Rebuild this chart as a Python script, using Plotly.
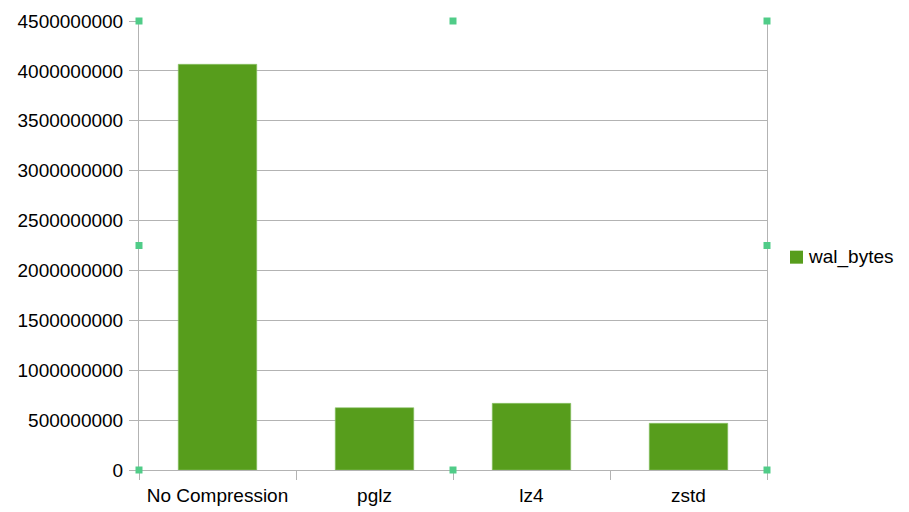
import plotly.graph_objects as go

categories = ["No Compression", "pglz", "lz4", "zstd"]
wal_bytes = [4066000000, 624000000, 668000000, 468000000]
y_ticks = [0, 500000000, 1000000000, 1500000000, 2000000000, 2500000000,
           3000000000, 3500000000, 4000000000, 4500000000]
series_name = "wal_bytes"
bar_color = "#579D1C"

fig = go.Figure()
fig.add_trace(go.Bar(
    x=categories, y=wal_bytes, name=series_name, showlegend=False,
    marker=dict(color=bar_color, line=dict(color="#8cc46a", width=0.6)),
))

grid = "#b3b3b3"
font = dict(family="Liberation Sans, Arial, sans-serif", size=19, color="#000000")

fig.update_layout(
    width=909, height=512,
    margin=dict(l=139, r=142, t=21, b=42, autoexpand=False),
    paper_bgcolor="white", plot_bgcolor="white",
    font=font,
    bargap=0.5,
    xaxis=dict(
        showline=True, linecolor=grid, linewidth=1, mirror=False,
        ticks="outside", tickson="boundaries", ticklen=9, tickcolor=grid,
        showgrid=False, tickfont=font, ticklabelstandoff=8,
    ),
    yaxis=dict(
        range=[0, 4500000000], tickvals=y_ticks,
        ticktext=[str(v) for v in y_ticks],
        showline=True, linecolor=grid, linewidth=1, mirror=True,
        ticks="outside", ticklen=9, tickcolor=grid,
        showgrid=True, gridcolor=grid, gridwidth=1,
        zeroline=False, tickfont=font, ticklabelstandoff=2,
    ),
)

# manual legend (swatch + label)
fig.add_shape(type="rect", xref="paper", yref="paper",
              xsizemode="pixel", ysizemode="pixel",
              xanchor=1, yanchor=0.474, x0=23, x1=36, y0=-6.5, y1=6.5,
              fillcolor=bar_color, line=dict(width=0))
fig.add_annotation(text=series_name, xref="paper", yref="paper",
                   x=1, y=0.474, xshift=39, xanchor="left", yanchor="middle",
                   showarrow=False, font=font)

# selection handles
handles = [(0, 1), (0.5, 1), (1, 1), (0, 0.5), (1, 0.5), (0, 0), (0.5, 0), (1, 0)]
for hx, hy in handles:
    fig.add_shape(type="rect", xref="paper", yref="paper",
                  xsizemode="pixel", ysizemode="pixel",
                  xanchor=hx, yanchor=hy, x0=-3.5, x1=3.5, y0=-3.5, y1=3.5,
                  fillcolor="#50CC88", line=dict(width=0), layer="above")

fig.write_html("out.html", config={"displayModeBar": False},
               post_script="document.body.style.margin='0';document.body.style.overflow='hidden';")
